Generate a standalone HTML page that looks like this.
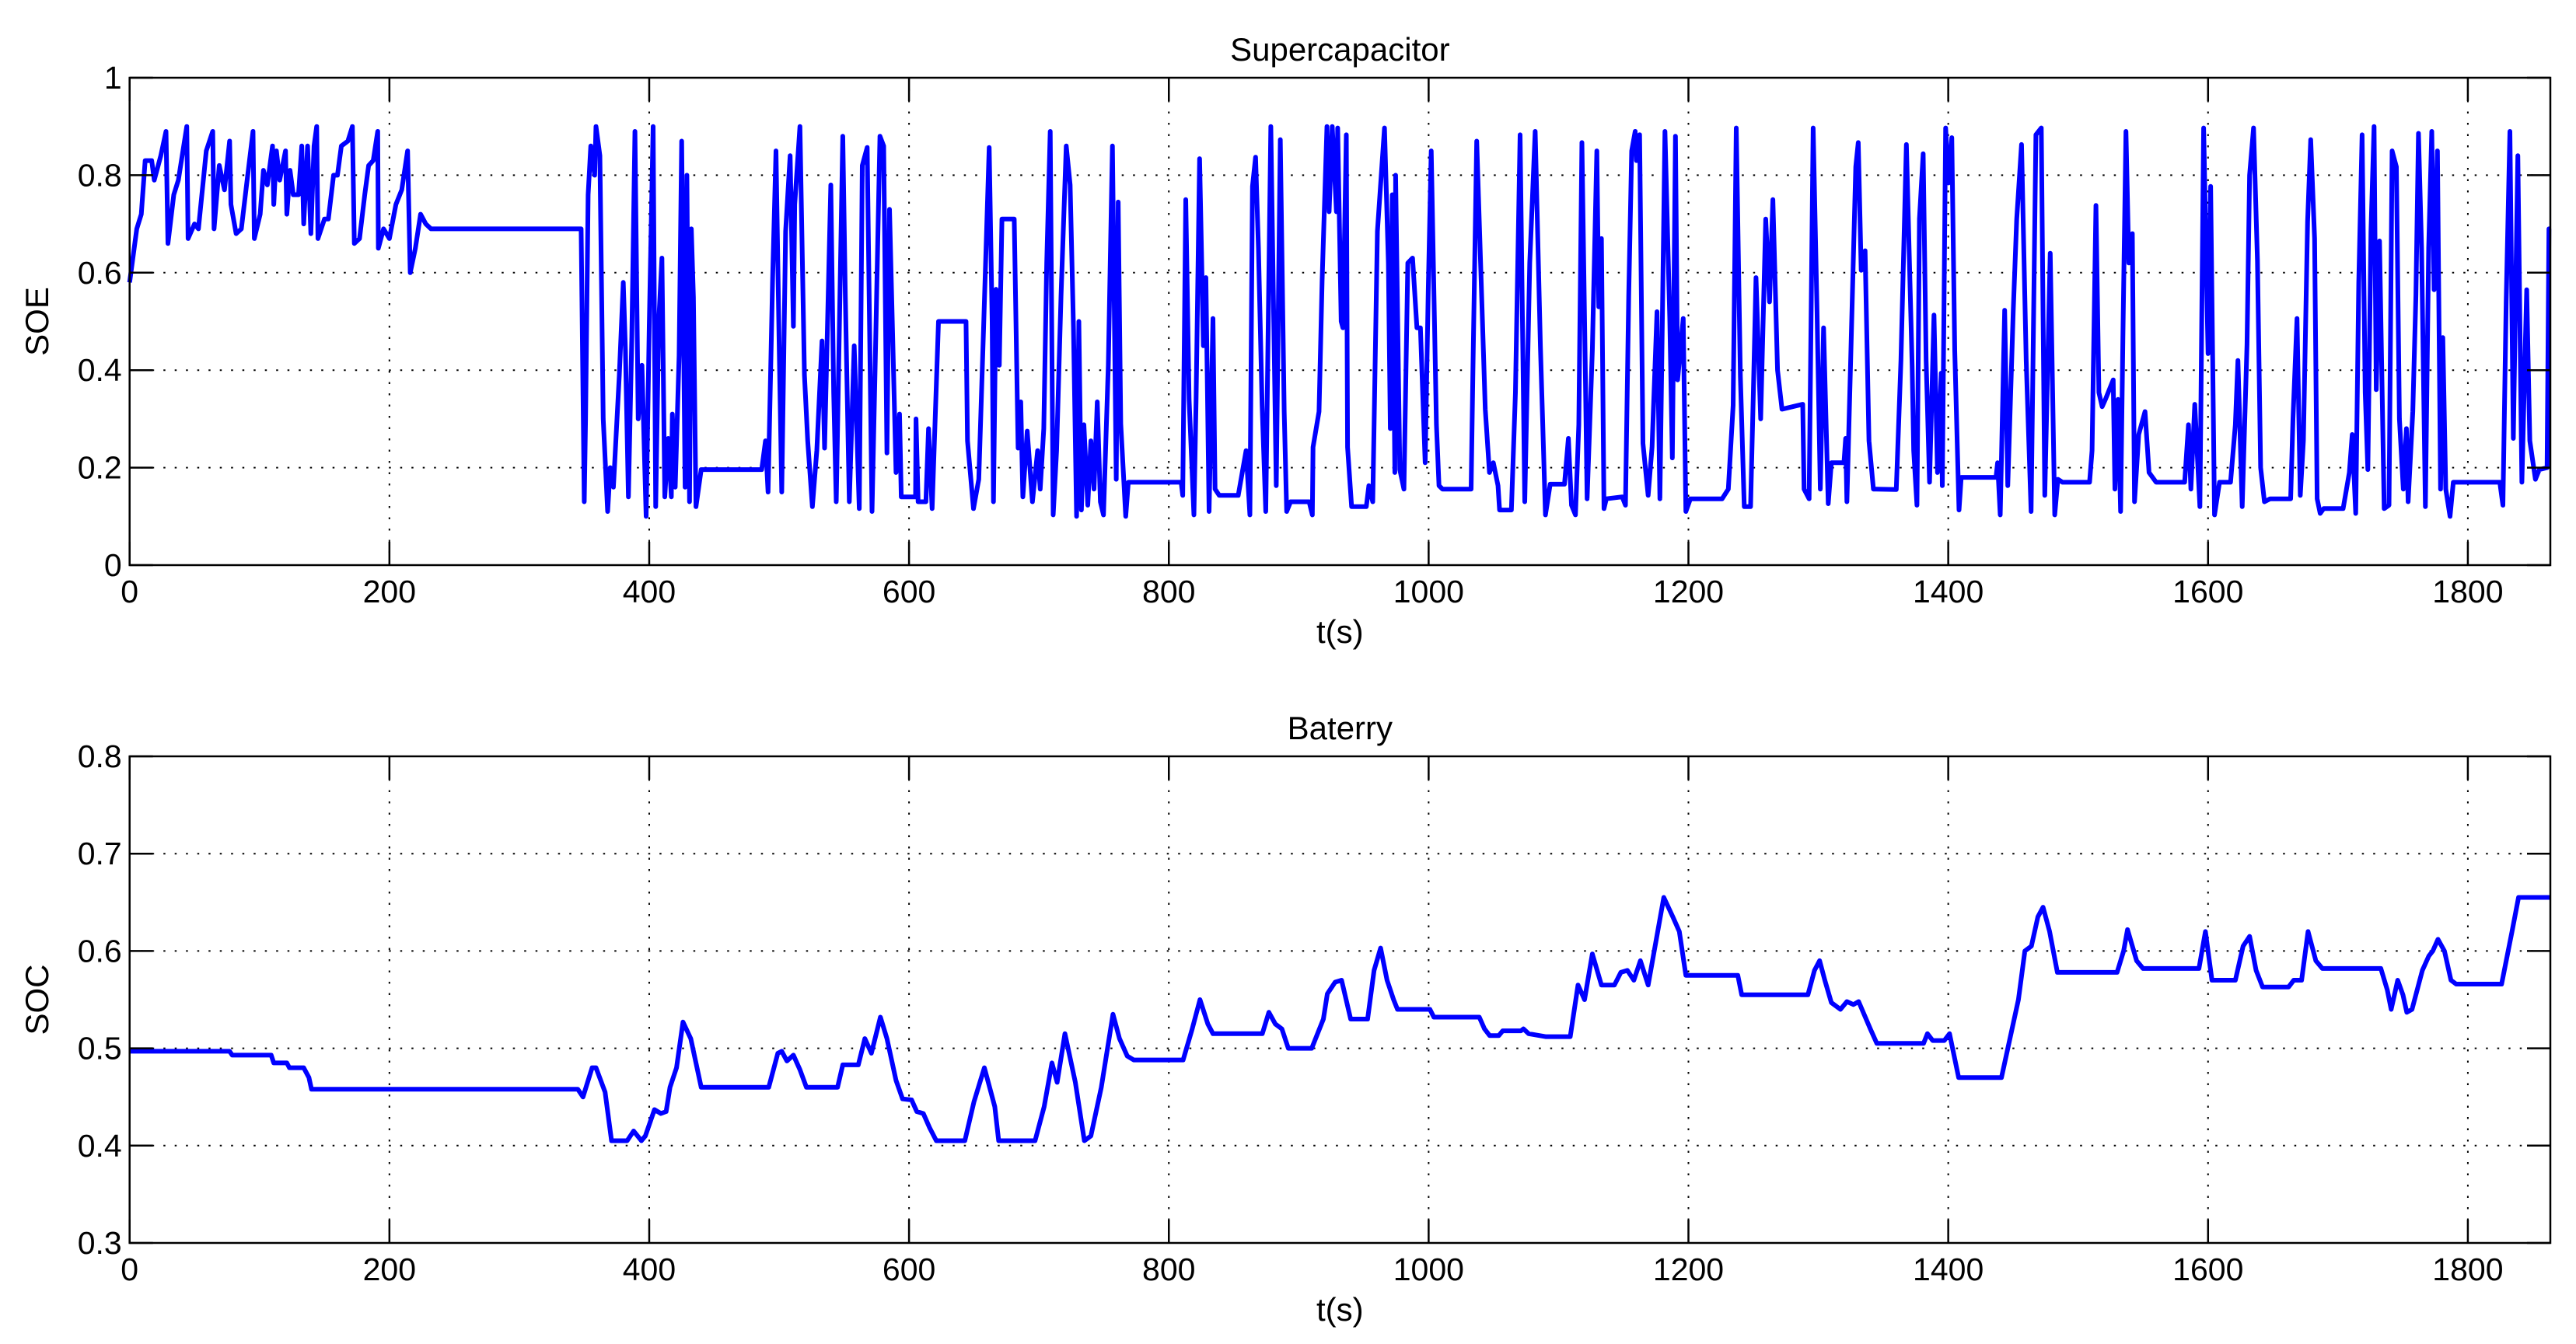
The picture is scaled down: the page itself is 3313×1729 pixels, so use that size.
<!DOCTYPE html>
<html><head><meta charset="utf-8"><style>
html,body{margin:0;padding:0;background:#fff;}
svg{display:block;font-family:"Liberation Sans",Arial,sans-serif;}
</style></head><body>
<svg id="chart" width="3313" height="1729" viewBox="0 0 3313 1729" xmlns="http://www.w3.org/2000/svg">
<rect x="0" y="0" width="3313" height="1729" fill="#fff"/>
</svg>
<script>
// ---- data ----
const xTicks = [0,200,400,600,800,1000,1200,1400,1600,1800];
const soeTicks = [0,0.2,0.4,0.6,0.8,1];
const socTicks = [0.3,0.4,0.5,0.6,0.7,0.8];
const soeT = [0,5.5,9,12,17,19,24,28,29.5,34,37.5,44,45,50,53,59,64,65,69,73,77,78,82,86,90,95,96,100.5,103,106,110,111,113,115.5,120,121,123.5,126,130,132.5,134,137,139.5,142,144,145,150,153,157,160,163,168,171.5,173,177,181,184,187.5,191,191.5,195.5,200,205,209.5,214,216,220,224,228,232,259,347.6,
350,351,353,355,358,359,362,363.4,364.6,368,370,372.4,377,380,381.7,384,386.6,389,391.5,394.4,397.6,400,403,405,407.3,409.8,412,414.6,417,417.8,420,423,425,427.6,429,431,432.4,434,436,440,486.6,489.5,491.5,495,497.6,500,502,505,508.5,511,512,516,519.5,522,525.6,529,533,535,539.8,542,544,547,549,551,554,557.8,561.7,564,567.8,571.5,574,577.6,580.5,583,585,590,592.7,594,605,605.4,607,613,615,617.8,622.7,643.9,645,649.6,653.7,657.4,661.7,664,665,667,669.5,671.5,681,684,686,687.6,691,695,699,701,703.7,706,708.7,711,713.6,717,721,
724,726.6,729,730.7,732.7,734.6,737.6,740,742.4,744.9,747.3,749.7,753.4,756.6,759.5,761,763,766.8,768.8,809.5,810.7,813,815.6,819.3,821,823.7,826.6,828.5,831,834,835.6,838.8,853.4,859.5,862.4,864.4,866.8,869,871.8,874.6,878.5,882.7,885.8,888.8,890.7,893.7,908,910.5,911,915.6,918,921.7,923.4,925.8,929,930,932.7,934,936.6,937.6,940.7,952,954,957,960.6,966,969,970.5,972,974,974.6,977.8,981,984,987.6,991,993.7,997.3,999.7,1002,1006,1008,1010.7,1032.7,1034,1037,1040,1043.6,1046.8,1049.8,1053.4,1054.6,1063.7,1066.8,1070.4,1074,1077.8,1082,1086,1089.9,1093.6,1104.6,
1107.6,1110,1113,1115.6,1118,1120.5,1122,1126,1129.5,1131,1133,1135,1136.8,1149,1151.5,1154,1156.3,1159,1160,1162.4,1165,1169,1172,1175.8,1178,1181.9,1185.6,1187.6,1190,1191.7,1196,1198,1201.5,1225.9,1230.7,1234.4,1236.8,1240,1243,1247.8,1250,1252,1255.6,1259.5,1262.4,1265,1268.6,1272,1288,1289,1292.9,1296,1299,1301.5,1304,1307.6,1310,1319.7,1321,1322,1325.9,1328.8,1330.7,1333,1336,1339,1342.4,1360,1363.6,1367.8,1372.2,1373.4,1375.9,1377.8,1380.7,1383,1385.6,1389,1391.7,1394.6,1395.4,1398,1400.2,1402.7,1405,1408.3,1410,1436.8,1438,1440,1443.4,1445.8,1450,1452.7,1456.4,1460,1463.8,1467.5,1471.6,1474.3,1478.5,1482,1484.4,1488,
1508.8,1510.7,1513.7,1516,1518.5,1521,1527,1528.3,1530.7,1532.7,1534.4,1536.8,1539,1541.7,1543.4,1546.6,1551.5,1554.6,1560,1582,1584.9,1586.8,1589.8,1593.7,1596.6,1600,1602,1605,1608.8,1617.3,1621,1623,1626.3,1630,1632,1635,1638,1640.5,1643.4,1647.8,1663.6,1665.4,1668.5,1671,1673.4,1676.6,1679,1682,1684,1686.3,1689,1704,1708.8,1711,1713.7,1716,1718.6,1721,1723,1725.4,1727.8,1729.5,1732,1735.6,1739.3,1741.7,1745,1747.3,1750.3,1752.7,1754,1757.6,1760,1762,1764.4,1767.3,1769.8,1772.2,1774,1776.6,1779,1780.7,1783,1786.3,1788.8,1824.6,1827,1829.5,1832.4,1835,1838.5,1841.6,1845.3,1847.7,1852,1855,1861,1862.4,1864];
const soeV = [0.58,0.69,0.72,0.83,0.83,0.79,0.84,0.89,0.66,0.76,0.79,0.90,0.67,0.70,0.69,0.85,0.89,0.69,0.82,0.77,0.87,0.74,0.68,0.69,0.78,0.89,0.67,0.72,0.81,0.78,0.86,0.74,0.85,0.79,0.85,0.72,0.81,0.76,0.76,0.86,0.70,0.86,0.68,0.86,0.90,0.67,0.71,0.71,0.80,0.80,0.86,0.87,0.90,0.66,0.67,0.76,0.82,0.83,0.89,0.65,0.69,0.67,0.74,0.77,0.85,0.60,0.65,0.72,0.70,0.69,0.69,0.69,
0.13,0.30,0.76,0.86,0.80,0.90,0.84,0.55,0.30,0.11,0.20,0.16,0.39,0.58,0.44,0.14,0.47,0.89,0.30,0.41,0.10,0.49,0.90,0.12,0.50,0.63,0.14,0.26,0.14,0.31,0.16,0.43,0.87,0.16,0.80,0.13,0.69,0.55,0.12,0.196,0.196,0.255,0.15,0.59,0.85,0.46,0.15,0.685,0.84,0.49,0.74,0.90,0.39,0.255,0.12,0.235,0.46,0.24,0.78,0.354,0.13,0.585,0.88,0.55,0.13,0.45,0.116,0.82,0.857,0.11,0.42,0.88,0.86,0.23,0.73,0.19,0.31,0.14,0.14,0.30,0.13,0.13,0.28,0.116,0.50,0.50,0.255,0.116,0.176,0.487,0.857,0.50,0.13,0.566,0.41,0.71,0.71,0.24,0.335,0.14,0.275,0.13,0.235,0.156,0.28,0.62,0.89,0.103,0.235,0.553,0.86,
0.78,0.487,0.10,0.50,0.113,0.288,0.123,0.255,0.156,0.335,0.13,0.103,0.41,0.86,0.176,0.745,0.29,0.10,0.17,0.17,0.143,0.75,0.34,0.103,0.34,0.834,0.45,0.59,0.11,0.506,0.156,0.143,0.143,0.235,0.103,0.777,0.837,0.65,0.328,0.11,0.90,0.163,0.873,0.315,0.11,0.13,0.13,0.103,0.242,0.315,0.585,0.90,0.725,0.90,0.725,0.897,0.50,0.487,0.883,0.242,0.12,0.12,0.163,0.13,0.685,0.897,0.62,0.28,0.76,0.19,0.80,0.196,0.156,0.62,0.63,0.487,0.487,0.21,0.565,0.85,0.288,0.163,0.156,0.156,0.387,0.87,0.62,0.32,0.19,0.21,0.163,0.113,0.113,0.354,0.883,0.13,0.62,0.89,0.45,0.103,0.166,0.166,
0.26,0.123,0.103,0.288,0.867,0.42,0.136,0.44,0.85,0.53,0.67,0.116,0.136,0.14,0.123,0.553,0.85,0.89,0.83,0.883,0.25,0.143,0.242,0.52,0.136,0.89,0.506,0.22,0.88,0.38,0.506,0.11,0.136,0.136,0.156,0.328,0.897,0.387,0.12,0.12,0.354,0.59,0.30,0.71,0.54,0.75,0.40,0.32,0.33,0.156,0.136,0.897,0.52,0.156,0.487,0.126,0.21,0.21,0.26,0.13,0.52,0.817,0.867,0.605,0.645,0.255,0.156,0.155,0.42,0.863,0.41,0.235,0.123,0.71,0.844,0.42,0.17,0.513,0.19,0.394,0.163,0.897,0.784,0.877,0.44,0.113,0.18,0.18,0.21,0.103,0.523,0.163,0.52,0.71,0.863,0.42,0.11,0.883,0.897,0.143,0.64,0.103,0.176,0.17,
0.17,0.235,0.738,0.354,0.325,0.34,0.38,0.156,0.34,0.11,0.46,0.89,0.62,0.68,0.13,0.268,0.315,0.19,0.17,0.17,0.288,0.156,0.33,0.12,0.897,0.434,0.777,0.103,0.17,0.17,0.288,0.42,0.12,0.453,0.80,0.897,0.625,0.20,0.13,0.136,0.136,0.30,0.506,0.143,0.255,0.705,0.873,0.67,0.136,0.106,0.116,0.116,0.19,0.268,0.106,0.58,0.883,0.354,0.196,0.685,0.90,0.36,0.665,0.116,0.123,0.85,0.817,0.30,0.156,0.28,0.13,0.315,0.553,0.886,0.65,0.12,0.65,0.89,0.565,0.85,0.156,0.467,0.156,0.10,0.17,0.17,0.123,0.54,0.89,0.26,0.84,0.17,0.565,0.255,0.176,0.196,0.20,0.69,0.69];
const socT = [0,77,79,109,111,121,123,134,138,140,345,349,356,359,366,371,383,388,394,397,404,409,413,416,421,426,432,440,492,499,502,506,511,516,521,545,549,561,566,571,578,583,590,595,602,606,611,616,621,643,650,658,666,669,697,704,710,714,720,728,735,740,748,757,762,768,773,811,818,824,830,834,872,877,882,887,892,910,919,922,928,933,940,953,958,963,968,973,976,1001,1004,1039,1043,1047,1054,1057,1071,1073,1077,1090,1109,1115,1120,1126,1133,1143,1148,1153,1158,1163,1169,1181,1188,1193,1198,1238,1241,1292,1297,1301,1305,1310,1317,1322,1327,1331,1340,1345,1381,1384,1388,1397,1401,1408,1441,1454,1459,1464,1469,1473,1478,1484,1530,1535,1538,1545,1550,1593,1598,1603,1621,1627,1632,1637,1642,1662,1666,1672,1677,1683,1688,1733,1738,1741,1746,1750,1753,1757,1765,1770,1773,1777,1782,1787,1791,1826,1834,1839,1864];
const socV = [0.497,0.497,0.493,0.493,0.485,0.485,0.48,0.48,0.47,0.458,0.458,0.45,0.48,0.48,0.455,0.405,0.405,0.415,0.405,0.41,0.437,0.433,0.435,0.46,0.48,0.527,0.51,0.46,0.46,0.495,0.497,0.487,0.493,0.478,0.46,0.46,0.483,0.483,0.51,0.495,0.532,0.51,0.467,0.448,0.447,0.435,0.433,0.418,0.405,0.405,0.445,0.48,0.44,0.405,0.405,0.44,0.485,0.465,0.515,0.465,0.405,0.41,0.46,0.535,0.51,0.492,0.488,0.488,0.52,0.55,0.525,0.515,0.515,0.537,0.525,0.52,0.5,0.5,0.53,0.556,0.568,0.57,0.53,0.53,0.58,0.603,0.57,0.55,0.54,0.54,0.532,0.532,0.52,0.513,0.513,0.518,0.518,0.52,0.515,0.512,0.512,0.565,0.55,0.597,0.565,0.565,0.578,0.58,0.57,0.59,0.565,0.655,0.635,0.62,0.575,0.575,0.555,0.555,0.58,0.59,0.57,0.547,0.54,0.548,0.545,0.548,0.52,0.505,0.505,0.515,0.508,0.508,0.515,0.47,0.47,0.55,0.6,0.605,0.635,0.645,0.62,0.578,0.578,0.6,0.622,0.59,0.582,0.582,0.62,0.57,0.57,0.605,0.615,0.58,0.563,0.563,0.57,0.57,0.62,0.59,0.582,0.582,0.56,0.54,0.57,0.555,0.537,0.54,0.58,0.595,0.6,0.612,0.6,0.57,0.566,0.566,0.62,0.655,0.655];

// ---- layout ----
const NS = "http://www.w3.org/2000/svg";
const svg = document.getElementById('chart');
const X0 = 166.7, X1 = 3280, TMAX = 1863.5;
const xs = t => X0 + (t / TMAX) * (X1 - X0);
function mk(tag, attrs, parent) {
  const e = document.createElementNS(NS, tag);
  for (const k in attrs) e.setAttribute(k, attrs[k]);
  (parent || svg).appendChild(e);
  return e;
}
function panel(cfg) {
  const g = mk('g', {});
  
  
  const ys = v => cfg.yb - (v - cfg.vmin) / (cfg.vmax - cfg.vmin) * (cfg.yb - cfg.yt);
  xTicks.forEach(t => {
    if (t === 0) return;
    const l = mk('line', {x1: xs(t), x2: xs(t), y1: cfg.yt, y2: cfg.yb, stroke: '#000', 'stroke-width': 2, 'stroke-dasharray': '2.5 12'}, g);
    
    
  });
  cfg.ticks.forEach(v => {
    if (v === cfg.vmin || v === cfg.vmax) return;
    const l = mk('line', {x1: X0, x2: X1, y1: ys(v), y2: ys(v), stroke: '#000', 'stroke-width': 2, 'stroke-dasharray': '2.5 12'}, g);
    
    
  });
  let d = '';
  cfg.T.forEach((t, i) => { d += (i ? 'L' : 'M') + xs(t).toFixed(1) + ',' + ys(cfg.V[i]).toFixed(1); });
  const p = mk('path', {d: d, fill: 'none', stroke: '#0000ff', 'stroke-width': 6, 'stroke-linejoin': 'round'}, g);
  
  
  const TL = 30;
  xTicks.forEach(t => {
    const a = mk('line', {x1: xs(t), x2: xs(t), y1: cfg.yb, y2: cfg.yb - TL, stroke: '#000', 'stroke-width': 2.5}, g);
    
    
    const b = mk('line', {x1: xs(t), x2: xs(t), y1: cfg.yt, y2: cfg.yt + TL, stroke: '#000', 'stroke-width': 2.5}, g);
    
    
    const tx = mk('text', {x: xs(t), y: cfg.yb + 48, 'text-anchor': 'middle', 'font-size': 41}, g);
    
    
    tx.textContent = String(t);
  });
  cfg.ticks.forEach(v => {
    const a = mk('line', {x1: X0, x2: X0 + TL, y1: ys(v), y2: ys(v), stroke: '#000', 'stroke-width': 2.5}, g);
    
    
    const b = mk('line', {x1: X1, x2: X1 - TL, y1: ys(v), y2: ys(v), stroke: '#000', 'stroke-width': 2.5}, g);
    
    
    const tx = mk('text', {x: X0 - 10, y: ys(v) + 14, 'text-anchor': 'end', 'font-size': 41}, g);
    
    
    tx.textContent = String(v);
  });
  const fr = mk('rect', {x: X0, y: cfg.yt, width: X1 - X0, height: cfg.yb - cfg.yt, fill: 'none', stroke: '#000', 'stroke-width': 2.5}, g);
  
  
  const ti = mk('text', {x: (X0 + X1) / 2, y: cfg.yt - 22, 'text-anchor': 'middle', 'font-size': 42}, g);
  
  
  ti.textContent = cfg.title;
  const xl = mk('text', {x: (X0 + X1) / 2, y: cfg.yb + 100, 'text-anchor': 'middle', 'font-size': 42}, g);
  
  
  xl.textContent = 't(s)';
  const yl = mk('text', {x: 0, y: 0, 'text-anchor': 'middle', 'font-size': 42, transform: 'translate(62,' + ((cfg.yt + cfg.yb) / 2) + ') rotate(-90)'}, g);
  
  
  yl.textContent = cfg.ylabel;
}
panel({name: 'supercapacitor-panel', seriesName: 'soe-line', title: 'Supercapacitor', ylabel: 'SOE', yt: 100, yb: 727, vmin: 0, vmax: 1, ticks: soeTicks, T: soeT, V: soeV});
panel({name: 'battery-panel', seriesName: 'soc-line', title: 'Baterry', ylabel: 'SOC', yt: 973, yb: 1599, vmin: 0.3, vmax: 0.8, ticks: socTicks, T: socT, V: socV});
</script>
</body></html>
